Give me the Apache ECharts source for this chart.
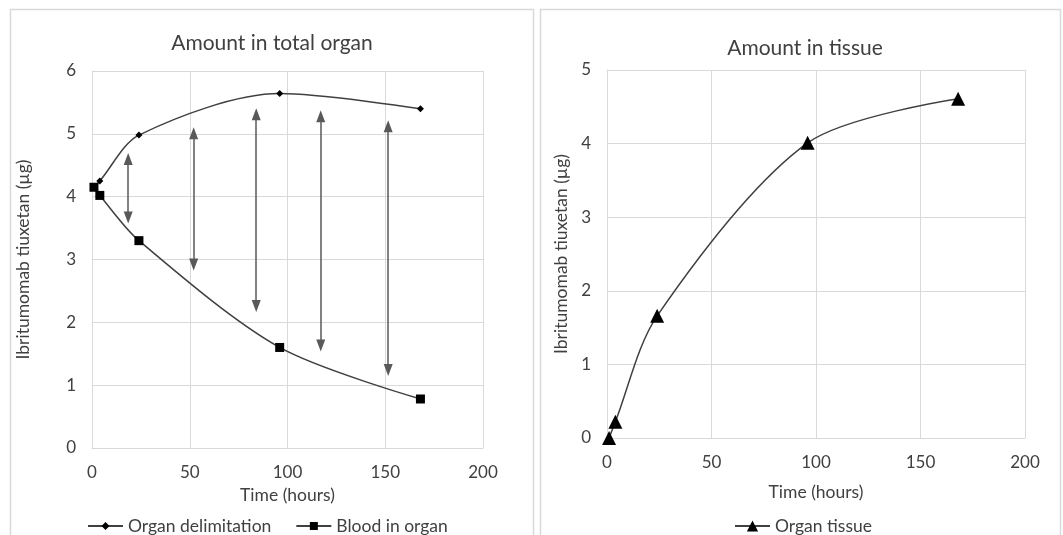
<!DOCTYPE html>
<html>
<head>
<meta charset="utf-8">
<script src="https://cdn.jsdelivr.net/npm/echarts@6/dist/echarts.min.js"></script>
<style>
html,body{margin:0;padding:0;background:#fff;}
#chart{width:1063px;height:535px;}
</style>
</head>
<body>
<div id="chart"></div>
<script>
// ---- data ----
const delimTime = [1, 4, 24, 96, 168];
const delimAmount = [4.15, 4.25, 4.98, 5.64, 5.40];
const bloodTime = [1, 4, 24, 96, 168];
const bloodAmount = [4.15, 4.02, 3.30, 1.60, 0.78];
const tissueTime = [1, 4, 24, 96, 168];
const tissueAmount = [0.0, 0.22, 1.66, 4.01, 4.61];
// double-headed arrows: time, and the values at the centres of the two arrowheads
const arrowTime = [18.5, 52, 84, 117, 151.5];
const arrowTop = [4.60, 5.01, 5.31, 5.28, 5.12];
const arrowBottom = [3.67, 2.92, 2.26, 1.63, 1.24];
const xTicks = [0, 50, 100, 150, 200];

const FONT = 'Lato';
const TXT = '#404040';
const GRID = '#d9d9d9';

function pairs(xs, ys) { return xs.map((x, i) => [x, ys[i]]); }

const chart = echarts.init(document.getElementById('chart'), null, {renderer: 'canvas'});

function xAxis(gridIndex, margin, nameGap) {
  return {
    type: 'value', gridIndex, min: 0, max: 200, interval: 50,
    name: 'Time (hours)', nameLocation: 'middle', nameGap,
    nameTextStyle: {fontFamily: FONT, fontSize: 17.5, color: TXT},
    axisLine: {show: true, lineStyle: {color: GRID, width: 1}},
    axisTick: {show: false},
    axisLabel: {fontFamily: FONT, fontSize: 17, color: TXT, margin,
      formatter: v => xTicks.includes(v) ? String(v) : ''},
    splitLine: {show: true, lineStyle: {color: GRID, width: 1}}
  };
}
function yAxis(gridIndex, max, nameGap) {
  return {
    type: 'value', gridIndex, min: 0, max, interval: 1,
    name: 'Ibritumomab tiuxetan (µg)', nameLocation: 'middle', nameGap,
    nameTextStyle: {fontFamily: FONT, fontSize: 17.5, color: TXT},
    axisLine: {show: true, lineStyle: {color: GRID, width: 1}},
    axisTick: {show: false},
    axisLabel: {fontFamily: FONT, fontSize: 17, color: TXT, margin: 16},
    splitLine: {show: true, lineStyle: {color: GRID, width: 1}}
  };
}

const arrowData = arrowTime.map((t, i) => [
  {coord: [t, arrowTop[i]]},
  {coord: [t, arrowBottom[i]]}
]);

const option = {
  backgroundColor: '#fff',
  animation: false,
  title: [
    {text: 'Amount in total organ', left: 267, top: 28, textAlign: 'center',
      textStyle: {fontFamily: FONT, fontSize: 21, fontWeight: 'normal', color: TXT}},
    {text: 'Amount in tissue', left: 800, top: 33, textAlign: 'center',
      textStyle: {fontFamily: FONT, fontSize: 21, fontWeight: 'normal', color: TXT}}
  ],
  graphic: [
    {type: 'rect', shape: {x: 10.5, y: 9.5, width: 523, height: 540}, style: {fill: 'none', stroke: '#d9d9d9', lineWidth: 1.5}, silent: true, z: -10},
    {type: 'rect', shape: {x: 540.5, y: 9.5, width: 520, height: 540}, style: {fill: 'none', stroke: '#d9d9d9', lineWidth: 1.5}, silent: true, z: -10}
  ],
  legend: [
    {data: ['Organ delimitation', 'Blood in organ'], left: 82, top: 512, itemWidth: 35, itemHeight: 10, itemGap: 24,
      textStyle: {fontFamily: FONT, fontSize: 17.5, color: TXT}},
    {data: ['Organ tissue'], left: 729, top: 512, itemWidth: 35, itemHeight: 14,
      textStyle: {fontFamily: FONT, fontSize: 17.5, color: TXT}}
  ],
  grid: [
    {left: 92, right: 580, top: 71, bottom: 87},
    {left: 607, right: 38, top: 70, bottom: 97}
  ],
  xAxis: [xAxis(0, 16, 38), xAxis(1, 16, 45)],
  yAxis: [yAxis(0, 6, 60), yAxis(1, 5, 37)],
  series: [
    {name: 'Organ delimitation', type: 'line', xAxisIndex: 0, yAxisIndex: 0,
      data: pairs(delimTime, delimAmount), smooth: 0.3,
      symbol: 'diamond', symbolSize: 7,
      lineStyle: {color: '#404040', width: 1.5}, itemStyle: {color: '#000'}, z: 3},
    {name: 'Blood in organ', type: 'line', xAxisIndex: 0, yAxisIndex: 0,
      data: pairs(bloodTime, bloodAmount), smooth: 0.3,
      symbol: 'rect', symbolSize: 9,
      lineStyle: {color: '#404040', width: 1.5}, itemStyle: {color: '#000'}, z: 4,
      markLine: {silent: true, symbol: ['triangle', 'triangle'], symbolSize: [9, 12],
        label: {show: false},
        lineStyle: {color: '#595959', width: 1.5, type: 'solid'},
        data: arrowData}},
    {name: 'Organ tissue', type: 'line', xAxisIndex: 1, yAxisIndex: 1,
      data: pairs(tissueTime, tissueAmount), smooth: 0.3,
      symbol: 'triangle', symbolSize: 14,
      lineStyle: {color: '#404040', width: 1.5}, itemStyle: {color: '#000'}, z: 3}
  ]
};
chart.setOption(option);
</script>
</body>
</html>
